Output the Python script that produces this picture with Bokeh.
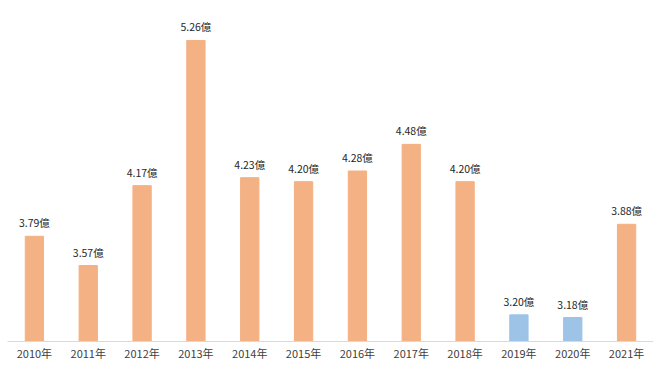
from bokeh.plotting import figure
from bokeh.models import ColumnDataSource, Range1d
from bokeh.core.properties import value
from bokeh.embed import file_html
from bokeh.resources import INLINE

years = ["2010年", "2011年", "2012年", "2013年", "2014年", "2015年",
         "2016年", "2017年", "2018年", "2019年", "2020年", "2021年"]
values = [3.79, 3.57, 4.17, 5.26, 4.23, 4.20, 4.28, 4.48, 4.20, 3.20, 3.18, 3.88]
labels = ["3.79億", "3.57億", "4.17億", "5.26億", "4.23億", "4.20億",
          "4.28億", "4.48億", "4.20億", "3.20億", "3.18億", "3.88億"]
colors = ["#F4B183"] * 9 + ["#9DC3E6", "#9DC3E6", "#F4B183"]

base = 3.0
src = ColumnDataSource(dict(x=years, top=values, bottom=[base] * len(values),
                            label=labels, color=colors))

p = figure(x_range=years, y_range=Range1d(base, 5.56), width=653, height=363,
           output_backend="svg", toolbar_location=None,
           min_border_left=7, min_border_right=0, min_border_top=0, min_border_bottom=0)
p.vbar(x="x", top="top", bottom="bottom", width=0.34, color="color", source=src)
p.text(x="x", y="top", text="label", source=src, text_align="center",
       text_baseline="bottom", y_offset=-6, text_font=value("Noto Sans CJK JP"),
       text_font_size="10.5px", text_color="#262626")

p.yaxis.visible = False
p.xgrid.visible = False
p.ygrid.visible = False
p.outline_line_color = None
p.xaxis.axis_line_color = "#D9D9D9"
p.xaxis.major_tick_line_color = None
p.xaxis.minor_tick_line_color = None
p.xaxis.major_tick_out = 0
p.xaxis.major_tick_in = 0
p.xaxis.major_label_text_font = "Noto Sans CJK JP"
p.xaxis.major_label_text_font_size = "11px"
p.xaxis.major_label_text_color = "#404040"
p.xaxis.major_label_standoff = 3
p.x_range.range_padding = 0

open("out.html", "w").write(file_html(p, INLINE))
